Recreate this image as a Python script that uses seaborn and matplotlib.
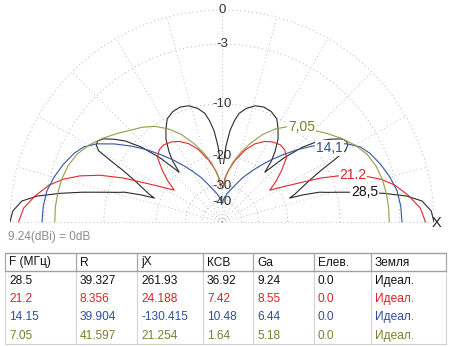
import numpy as np
import matplotlib
matplotlib.use("Agg")
import matplotlib.pyplot as plt
import seaborn as sns
import pandas as pd

# ---------------- data ----------------
# Elevation angle (deg above horizon, right half; pattern symmetric) and gain in dB re 9.24 dBi
ang_285 = [0, 3, 6, 8, 10, 12, 14, 16, 17, 18.5, 19.5, 21, 23, 25.5, 27.5, 29, 30, 31.5, 33, 35, 37.5, 40,
           43, 46, 49.3, 51, 53, 56, 59, 62, 66, 70, 74, 78, 81, 83, 85, 87, 88.5, 90]
db_285 = [0.0, -0.2, -0.9, -2.2, -4.3, -6.7, -9.3, -11.6, -12.5, -15.5, -18.5, -17.0, -15.5, -13.3, -11.0, -8.5,
          -6.8, -6.2, -6.1, -6.5, -7.6, -8.9, -11.3, -14.8, -20.0, -17.0, -15.0, -12.8, -11.4, -10.2, -9.6,
          -9.4, -9.6, -10.3, -11.2, -12.5, -14.3, -17.5, -22.0, -100.0]

ang_212 = [0, 4, 8, 12, 15, 18, 21, 24, 27, 30, 33.7, 37, 41, 45, 49, 53, 58, 62, 67, 72, 78, 83, 86, 88, 90]
db_212 = [-0.7, -1.1, -2.0, -3.1, -4.3, -6.0, -8.3, -11.5, -15.5, -18.8, -22.3, -19.5, -16.8, -14.4, -13.6,
          -13.4, -13.8, -14.4, -15.6, -17.5, -20.7, -24.0, -26.6, -30.0, -100.0]

ang_141 = [0, 5, 10, 15, 20, 25, 28.5, 32, 36, 40, 44, 48, 52, 56, 60, 65, 70, 75, 80, 85, 88, 90]
db_141 = [-2.8, -2.85, -3.0, -3.4, -3.9, -4.5, -5.1, -6.2, -8.0, -10.0, -12.2, -14.6, -17.0, -19.5, -22.0,
          -25.0, -28.5, -31.5, -34.0, -37.0, -40.0, -100.0]

ang_705 = [0, 5, 10, 15, 20, 25, 30, 35, 40, 45, 50, 55, 60, 65, 70, 75, 80, 85, 88, 90]
db_705 = [-4.06, -4.05, -4.1, -4.2, -4.4, -4.8, -5.5, -6.4, -7.4, -8.4, -9.2, -10.2, -11.6, -13.4, -15.8,
          -18.5, -21.5, -26.0, -31.0, -100.0]

curve_names = ["28,5", "21.2", "14,1", "7,05"]
ring_db = [0, -3, -10, -20, -30, -40]
ring_labels = ["0", "-3", "-10", "-20", "-30", "-40"]

ref_text = "9.24(dBi) = 0dB"
col_headers = ["F (МГц)", "R", "jX", "КСВ", "Ga", "Елев.", "Земля"]
col_F = ["28.5", "21.2", "14.15", "7.05"]
col_R = ["39.327", "8.356", "39.904", "41.597"]
col_jX = ["261.93", "24.188", "-130.415", "21.254"]
col_SWR = ["36.92", "7.42", "10.48", "1.64"]
col_Ga = ["9.24", "8.55", "6.44", "5.18"]
col_Elev = ["0.0", "0.0", "0.0", "0.0"]
col_Ground = ["Идеал.", "Идеал.", "Идеал.", "Идеал."]

# ---------------- style ----------------
sns.set_style("white")
plt.rcParams['font.family'] = ['Liberation Sans', 'DejaVu Sans']

curve_colors = ["#2a2a2a", "#e8262c", "#34559f", "#9a9a4a"]
text_colors = ["#111111", "#e0202a", "#2d4f9e", "#7d7d2b"]
grid_color = "#aaaaaa"
grid_ls = (0, (1, 3.4))

fig = plt.figure(figsize=(4.5, 3.47), dpi=100)
# full polar axes, centre at (222, 222) px from top, radius 212 px; only upper half is used
ax = fig.add_axes([10 / 450, -87 / 347, 424 / 450, 424 / 347], projection='polar')
ax.set_facecolor("none")


def fwd(d):
    return np.power(0.89, -np.asarray(d, dtype=float) / 2.0)


def inv(r):
    return -2.0 * np.log(np.clip(np.asarray(r, dtype=float), 1e-12, None)) / np.log(0.89)


ax.set_yscale('function', functions=(fwd, inv))

# rings (dotted semicircles) at the dB levels
th = np.linspace(0, np.pi, 361)
for d in ring_db:
    ax.plot(th, np.full_like(th, d), color=grid_color, linestyle=grid_ls, linewidth=0.65,
            clip_on=False, zorder=1)

series = [(ang_285, db_285), (ang_212, db_212), (ang_141, db_141), (ang_705, db_705)]
for (ang, db), col in zip(series, curve_colors):
    a = np.array(ang, dtype=float)
    d = np.array(db, dtype=float)
    full_a = np.concatenate([a, 180.0 - a[::-1]])
    full_d = np.concatenate([d, d[::-1]])
    df = pd.DataFrame({"theta": np.deg2rad(full_a), "db": full_d})
    sns.lineplot(data=df, x="theta", y="db", sort=False, estimator=None,
                 color=col, linewidth=0.8, ax=ax, zorder=3)

ax.set_ylim(-100, 0)
ax.set_xticks(np.deg2rad(np.arange(0, 181, 15)))
ax.set_xticklabels([])
ax.set_yticks([])
ax.xaxis.grid(True, color=grid_color, linestyle=grid_ls, linewidth=0.6)
ax.yaxis.grid(False)
ax.tick_params(length=0)
for sp in ax.spines.values():
    sp.set_visible(False)
ax.set_xlabel("")
ax.set_ylabel("")

for d, lab in zip(ring_db, ring_labels):
    ax.text(np.pi / 2, d, lab, ha="center", va="center", fontsize=9.5, color="#333333", zorder=4)

# curve labels (theta deg, dB)
label_pos = [(11.8, -6.4), (19.7, -7.2), (34.4, -8.3), (49.9, -9.2)]
for (t, d), name, col in zip(label_pos, curve_names, text_colors):
    ax.text(np.deg2rad(t), d, name, ha="center", va="center", fontsize=10, color=col, zorder=5,
            bbox=dict(facecolor="white", edgecolor="none", pad=0.6))

# ---------------- overlay for texts and table ----------------
ov = fig.add_axes([0, 0, 1, 1])
ov.set_xlim(0, 450)
ov.set_ylim(347, 0)
ov.axis("off")
ov.patch.set_visible(False)

ov.text(437, 223, "X", ha="center", va="center", fontsize=10.5, color="#222222")
ov.text(8, 237, ref_text, ha="left", va="center", fontsize=8.5, color="#8c8c8c")

bounds = [5, 76, 137, 203, 253, 314, 371, 446]
h_top, h_bot, row_h = 253, 271, 18.3
t_bot = h_bot + 4 * row_h

for x in bounds:
    ov.plot([x, x], [h_bot, t_bot], color="#d4d4d4", lw=0.8)
ov.plot([bounds[0], bounds[-1]], [t_bot, t_bot], color="#cfcfcf", lw=0.8)
for x in bounds:
    ov.plot([x, x], [h_top, h_bot], color="#a8a8a8", lw=0.9)
ov.plot([bounds[0], bounds[-1]], [h_top, h_top], color="#a0a0a0", lw=1.0)
ov.plot([bounds[0], bounds[-1]], [h_bot, h_bot], color="#a0a0a0", lw=1.0)

for x, h in zip(bounds[:-1], col_headers):
    ov.text(x + 4, (h_top + h_bot) / 2 + 0.5, h, ha="left", va="center", fontsize=8.6, color="#111111")

columns = [col_F, col_R, col_jX, col_SWR, col_Ga, col_Elev, col_Ground]
for i in range(4):
    yc = h_bot + row_h * (i + 0.5) + 0.5
    for x, col in zip(bounds[:-1], columns):
        ov.text(x + 4, yc, col[i], ha="left", va="center", fontsize=8.6, color=text_colors[i])

fig.savefig("out.png", dpi=100)
